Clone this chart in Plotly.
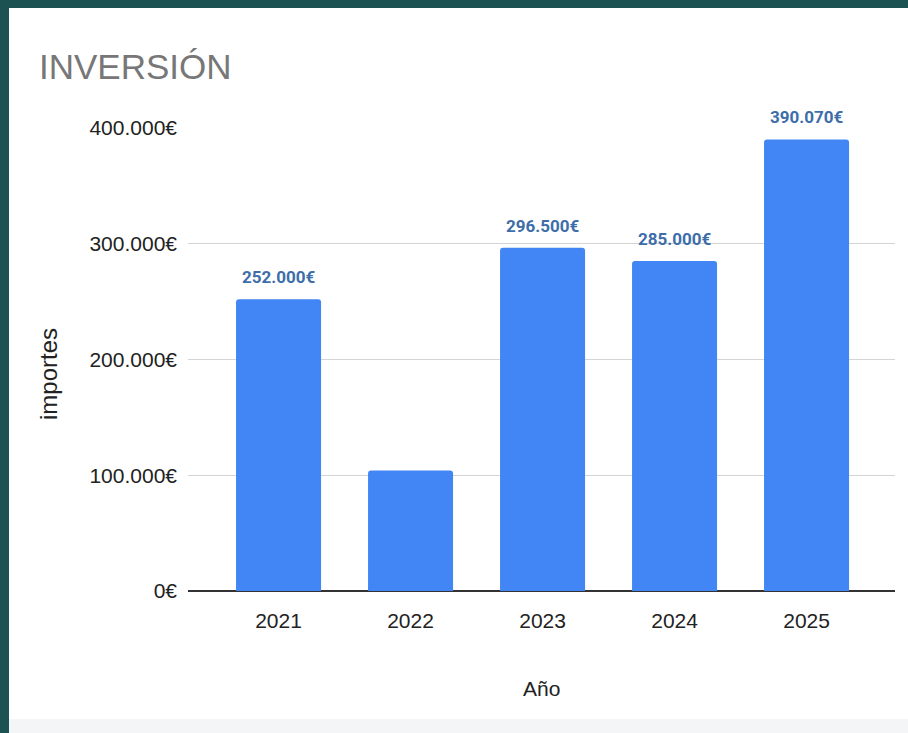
import plotly.graph_objects as go

years = ["2021", "2022", "2023", "2024", "2025"]
importes = [252000, 104000, 296500, 285000, 390070]
labels = ["252.000€", "", "296.500€", "285.000€", "390.070€"]
y_ticks = [0, 100000, 200000, 300000, 400000]
y_tick_text = ["0€", "100.000€", "200.000€", "300.000€", "400.000€"]

W, H = 908, 733
L, R, T, B = 188, 13, 128, 142
PW, PH = W - L - R, H - T - B

SANS = "Liberation Sans, Arial, sans-serif"
LABEL_FONT = "Roboto, Liberation Sans, Arial, sans-serif"

def px_x(p):
    return (p - L) / PW

def px_y(p):
    return (H - B - p) / PH

fig = go.Figure()
fig.add_trace(go.Bar(
    x=years, y=importes,
    marker=dict(color="#4285F4", cornerradius=3, line=dict(width=0)),
    width=0.644,
    hoverinfo="x+y",
))

for i, (v, t) in enumerate(zip(importes, labels)):
    if t:
        fig.add_annotation(x=i, y=v, xref="x", yref="y", text=t, showarrow=False, yanchor="bottom",
                           yshift=10, font=dict(family=LABEL_FONT, size=17, color="#3d6ea9", weight="bold"))

fig.add_annotation(xref="paper", yref="paper", x=px_x(37), y=px_y(66), xanchor="left", yanchor="middle",
                   text="INVERSIÓN", showarrow=False, font=dict(family=SANS, size=35, color="#777777"))
fig.add_annotation(xref="paper", yref="paper", x=px_x(541), y=px_y(688), xanchor="center", yanchor="middle",
                   text="Año", showarrow=False, font=dict(family=SANS, size=21, color="#222222"))
fig.add_annotation(xref="paper", yref="paper", x=px_x(48), y=px_y(374), xanchor="center", yanchor="middle",
                   text="importes", textangle=-90, showarrow=False, font=dict(family=SANS, size=24, color="#222222"))

# frame
fig.add_shape(type="rect", xref="paper", yref="paper", x0=px_x(0), x1=px_x(9), y0=px_y(H), y1=px_y(0),
              fillcolor="#1d5253", line=dict(width=0), layer="above")
fig.add_shape(type="rect", xref="paper", yref="paper", x0=px_x(0), x1=px_x(W), y0=px_y(8), y1=px_y(0),
              fillcolor="#1d5253", line=dict(width=0), layer="above")
fig.add_shape(type="rect", xref="paper", yref="paper", x0=px_x(9), x1=px_x(W), y0=px_y(H), y1=px_y(719),
              fillcolor="#f3f5f6", line=dict(width=0), layer="below")

fig.update_layout(
    width=W, height=H,
    margin=dict(l=L, r=R, t=T, b=B, pad=0),
    paper_bgcolor="white", plot_bgcolor="white",
    showlegend=False,
    bargap=0.356,
    xaxis=dict(type="category", range=[-0.686, 4.67], showgrid=False, zeroline=False, showline=False,
               ticks="", ticklabelstandoff=15,
               tickfont=dict(family=SANS, size=21, color="#222222")),
    yaxis=dict(range=[0, 400000], tickvals=y_ticks, ticktext=y_tick_text,
               showgrid=True, gridcolor="#d4d4d4", gridwidth=1,
               zeroline=True, zerolinecolor="#333333", zerolinewidth=2, showline=False,
               ticks="", ticklabelstandoff=10,
               tickfont=dict(family=SANS, size=21, color="#222222")),
)

fig.write_html("out.html", config={"displayModeBar": False},
               post_script="document.body.style.margin='0';document.body.style.padding='0';")
